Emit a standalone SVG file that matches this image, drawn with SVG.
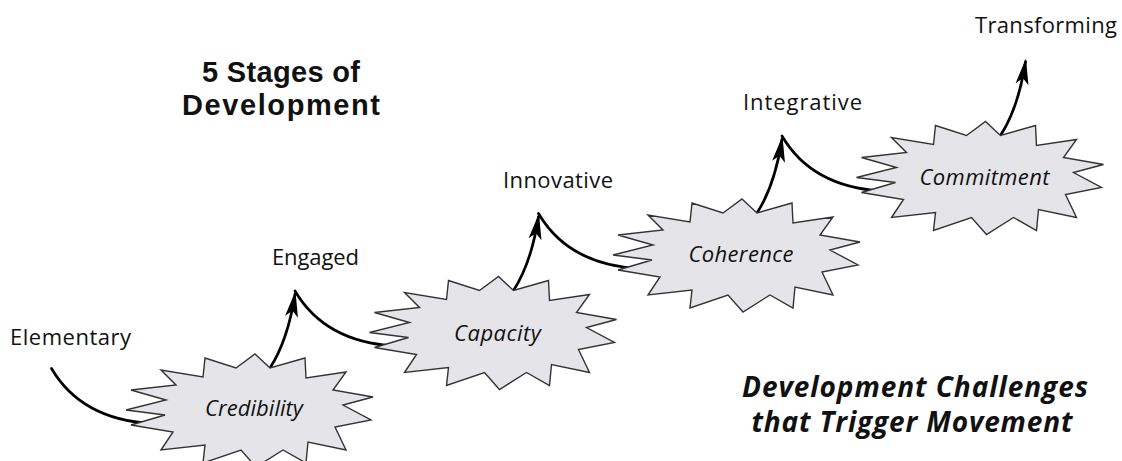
<svg xmlns="http://www.w3.org/2000/svg" xmlns:xlink="http://www.w3.org/1999/xlink" width="1122" height="461" viewBox="0 0 1122 461">
  <style>
    .label { font-family: "Open Sans", "Liberation Sans", sans-serif; font-size: 22px; fill: #111; }
    .stage { font-family: "Open Sans", "Liberation Sans", sans-serif; font-size: 22px; font-style: italic; fill: #111; text-anchor: middle; }
    .title { font-family: "Liberation Sans", "Open Sans", sans-serif; font-size: 29px; font-weight: bold; fill: #111; text-anchor: middle; }
    .caption { font-family: "Open Sans", "Liberation Sans", sans-serif; font-size: 28px; font-weight: bold; font-style: italic; fill: #111; text-anchor: middle; }
    .burst { fill: #e4e4e9; stroke: #333; stroke-width: 1.4; stroke-linejoin: miter; }
    .flow { fill: none; stroke: #000; stroke-width: 2.7; stroke-linecap: round; }
    .rise { marker-end: url(#head); }
  </style>
  <defs>
    <marker id="head" viewBox="-28 -8 32 16" refX="-3" refY="0" markerWidth="32" markerHeight="16" markerUnits="userSpaceOnUse" orient="auto">
      <path d="M0,0 L-26,-6.5 L-20,0 L-26,6.5 Z" fill="#000"/>
    </marker>
    <!-- 15-point starburst centred on the origin -->
    <path id="burst" class="burst" d="M5,-56 L20,-42 L55,-52 L56,-32 L96,-38 L83,-20 L123,-13 L93,-5 L121,10 L85,17 L96,40 L58,32 L56,53 L33,40 L6,57 L-9,40 L-47,53 L-45,35 L-89,40 L-77,22 L-119,15 L-85,5 L-124,0 L-84,-10 L-119,-20 L-74,-25 L-89,-40 L-47,-33 L-45,-52 L-14,-42 Z"/>
  </defs>

  <rect width="1122" height="461" fill="#fff"/>

  <!-- headings -->
  <g id="title">
    <text class="title" x="281" y="82" textLength="158">5 Stages of</text>
    <text class="title" x="281" y="115" textLength="198">Development</text>
  </g>
  <g id="caption">
    <text class="caption" x="915" y="397" textLength="346">Development Challenges</text>
    <text class="caption" x="912" y="432" textLength="321">that Trigger Movement</text>
  </g>

  <!-- connectors: rising arrows out of each stage and the sweeps into the next -->
  <g id="connectors">
    <path class="flow" d="M51.5,368.5 Q81.5,419.5 151.5,423.5"/>
    <path class="flow rise" d="M270,368 Q288,340 295,294"/>
    <path class="flow" d="M295,291 Q325,342 395,346"/>
    <path class="flow rise" d="M513.5,290.5 Q531.5,262.5 538.5,216.5"/>
    <path class="flow" d="M538.5,213.5 Q568.5,264.5 638.5,268.5"/>
    <path class="flow rise" d="M757,213 Q775,185 782,139"/>
    <path class="flow" d="M782,136 Q812,187 882,191"/>
    <path class="flow rise" d="M1000.5,135.5 Q1018.5,107.5 1025.5,61.5"/>
  </g>

  <!-- stage labels -->
  <g id="elementary"><text class="label" x="10" y="345" textLength="121">Elementary</text></g>
  <g id="engaged"><text class="label" x="272" y="265" textLength="87">Engaged</text></g>
  <g id="innovative"><text class="label" x="503" y="188" textLength="110">Innovative</text></g>
  <g id="integrative"><text class="label" x="743" y="110" textLength="119">Integrative</text></g>
  <g id="transforming"><text class="label" x="975" y="33" textLength="142">Transforming</text></g>

  <!-- challenge bursts -->
  <g id="credibility" transform="translate(250,410)">
    <use xlink:href="#burst"/>
    <text class="stage" x="4" y="6" textLength="98">Credibility</text>
  </g>
  <g id="capacity" transform="translate(493.5,332.5)">
    <use xlink:href="#burst"/>
    <text class="stage" x="4" y="8" textLength="87">Capacity</text>
  </g>
  <g id="coherence" transform="translate(737,255)">
    <use xlink:href="#burst"/>
    <text class="stage" x="4" y="7" textLength="105">Coherence</text>
  </g>
  <g id="commitment" transform="translate(980.5,177.5)">
    <use xlink:href="#burst"/>
    <text class="stage" x="4" y="7" textLength="130">Commitment</text>
  </g>
</svg>
